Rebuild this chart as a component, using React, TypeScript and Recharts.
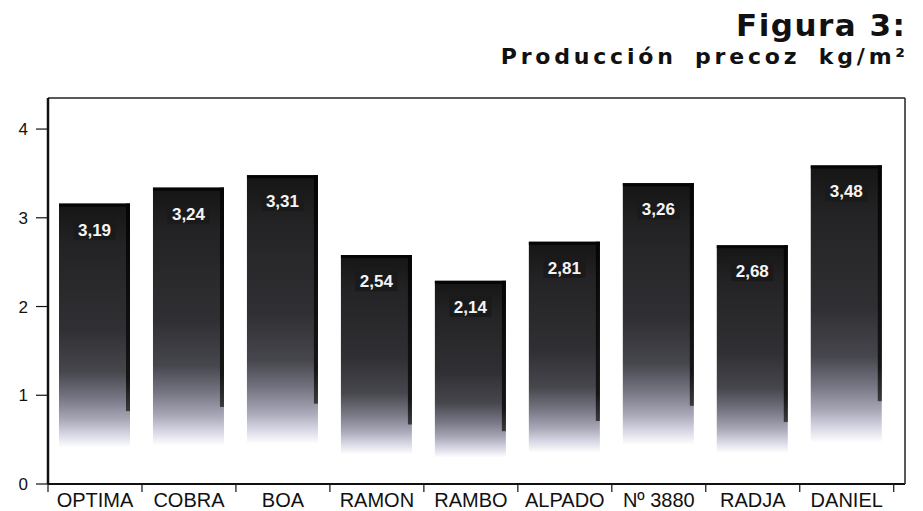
import React from 'react';
import { BarChart, Bar, XAxis, YAxis, LabelList } from 'recharts';

// varieties on the x axis
const VARIETIES = ['OPTIMA', 'COBRA', 'BOA', 'RAMON', 'RAMBO', 'ALPADO', 'Nº 3880', 'RADJA', 'DANIEL'];
// bar heights as printed (kg/m²)
const HEIGHTS = [3.16, 3.34, 3.48, 2.58, 2.29, 2.73, 3.39, 2.69, 3.59];
// values written inside the bars
const VALUE_LABELS = ['3,19', '3,24', '3,31', '2,54', '2,14', '2,81', '3,26', '2,68', '3,48'];
const Y_TICKS = [0, 1, 2, 3, 4];

const FONT = '"Liberation Sans", Arial, sans-serif';
const TITLE_FONT = '"DejaVu Sans", sans-serif';
const Y_DOMAIN: [number, number] = [0, 4.35];
const X_DOMAIN: [number, number] = [0, 9.12];

const data = VARIETIES.map((name, i) => ({
  pos: i + 0.5,
  name,
  value: HEIGHTS[i],
  label: VALUE_LABELS[i],
}));

// boundary ticks on integers, names on the half positions
const xTicks = VARIETIES.flatMap((_, i) => [i, i + 0.5]).concat(VARIETIES.length);

function XTick(props: any) {
  const { x, y, payload } = props;
  const v = payload.value as number;
  if (Number.isInteger(v)) {
    return <line x1={x} x2={x} y1={y} y2={y + 8} stroke="#111" strokeWidth={1.2} />;
  }
  const name = VARIETIES[Math.floor(v)];
  return (
    <text x={x} y={y + 23} textAnchor="middle" fontFamily={FONT} fontSize={20} fill="#111">
      {name}
    </text>
  );
}

function BarShape(props: any) {
  const { x, y, width, height } = props;
  if (!height || height <= 0) return null;
  return (
    <g>
      <rect x={x} y={y} width={width} height={height} fill="url(#barGrad)" />
      <rect x={x + width - 4} y={y} width={4} height={height * 0.74} fill="url(#edgeGrad)" />
      <rect x={x} y={y} width={width} height={3} fill="#050505" />
    </g>
  );
}

function ValueLabel(props: any) {
  const { x, y, width, value } = props;
  const cx = x + width / 2;
  return (
    <g>
      <rect x={cx - 21} y={y + 15} width={42} height={21} fill="#1a1a1a" />
      <text x={cx} y={y + 32} textAnchor="middle" fontFamily={FONT} fontWeight="bold" fontSize={17} fill="#f4f4f4">
        {value}
      </text>
    </g>
  );
}

export default function App() {
  return (
    <div style={{ position: 'absolute', left: 0, top: 0, width: 923, height: 511, background: '#fff' }}>
      <div
        style={{
          position: 'absolute', right: 18, top: 10, fontFamily: TITLE_FONT, fontWeight: 'bold',
          fontSize: 31, lineHeight: '31px', letterSpacing: 1.5, marginRight: -1.5, color: '#111', whiteSpace: 'nowrap',
        }}
      >
        Figura 3:
      </div>
      <div
        style={{
          position: 'absolute', right: 18, top: 46, fontFamily: TITLE_FONT, fontWeight: 'bold',
          fontSize: 22, lineHeight: '22px', letterSpacing: 3.8, wordSpacing: 7, marginRight: -3.8,
          color: '#111', whiteSpace: 'nowrap',
        }}
      >
        Producción precoz kg/m²
      </div>
      <BarChart width={923} height={511} data={data} margin={{ top: 97, right: 17, left: 0, bottom: 0 }}>
        <defs>
          <linearGradient id="barGrad" x1="0" y1="0" x2="0" y2="1">
            <stop offset="0" stopColor="#151515" />
            <stop offset="0.15" stopColor="#232325" />
            <stop offset="0.45" stopColor="#303034" />
            <stop offset="0.6" stopColor="#46464d" />
            <stop offset="0.7" stopColor="#7a7a88" />
            <stop offset="0.77" stopColor="#a8a8b8" />
            <stop offset="0.82" stopColor="#d4d4e2" />
            <stop offset="0.87" stopColor="#ffffff" />
          </linearGradient>
          <linearGradient id="edgeGrad" x1="0" y1="0" x2="0" y2="1">
            <stop offset="0" stopColor="#050505" />
            <stop offset="0.85" stopColor="#151515" />
            <stop offset="1" stopColor="#3a3a3e" />
          </linearGradient>
        </defs>
        <XAxis
          dataKey="pos"
          type="number"
          domain={X_DOMAIN}
          ticks={xTicks}
          interval={0}
          allowDataOverflow
          tick={<XTick />}
          tickLine={false}
          tickSize={0}
          tickMargin={0}
          height={27}
          axisLine={{ stroke: '#111', strokeWidth: 2 }}
        />
        <XAxis
          xAxisId="top"
          orientation="top"
          type="number"
          domain={X_DOMAIN}
          tick={false}
          tickLine={false}
          height={1}
          axisLine={{ stroke: '#222', strokeWidth: 1.5 }}
        />
        <YAxis
          domain={Y_DOMAIN}
          ticks={Y_TICKS}
          width={48}
          allowDataOverflow
          tickSize={12}
          tickMargin={8}
          tick={{ fontFamily: FONT, fontSize: 17, fill: '#111' }}
          tickLine={{ stroke: '#111', strokeWidth: 1.2 }}
          axisLine={{ stroke: '#111', strokeWidth: 2.5 }}
        />
        <YAxis
          yAxisId="right"
          orientation="right"
          domain={Y_DOMAIN}
          width={1}
          tick={false}
          tickLine={false}
          axisLine={{ stroke: '#222', strokeWidth: 1.5 }}
        />
        <Bar dataKey="value" barSize={71} shape={<BarShape />} isAnimationActive={false}>
          <LabelList dataKey="label" content={<ValueLabel />} />
        </Bar>
      </BarChart>
    </div>
  );
}
